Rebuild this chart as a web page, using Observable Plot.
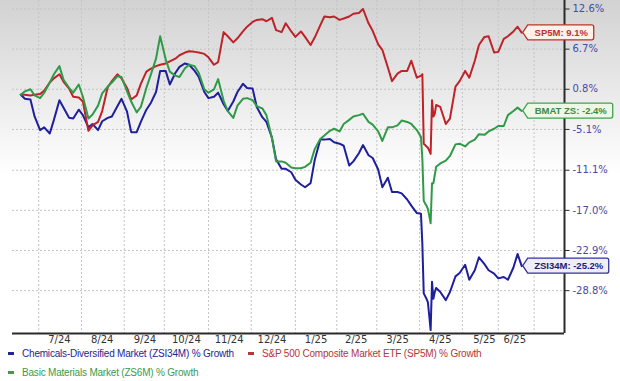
<!DOCTYPE html>
<html>
<head>
<meta charset="utf-8">
<script src="https://cdn.jsdelivr.net/npm/d3@7"></script>
<script src="https://cdn.jsdelivr.net/npm/@observablehq/plot@0.6"></script>
<style>
  html, body { margin: 0; padding: 0; background: #fff; }
  #wrap { position: relative; width: 620px; height: 381px; overflow: hidden; }
  #chart svg { display: block; background: linear-gradient(to bottom, #d2d2d2 0px, #ffffff 175px); }
  .lg { position: absolute; font-family: "Liberation Sans", Arial, sans-serif; font-size: 10px;
        letter-spacing: -0.2px; line-height: 14px; white-space: nowrap; }
  .lg i { display: inline-block; width: 6px; height: 3px; vertical-align: middle; margin-right: 8px; position: relative; top: -1px; }
</style>
</head>
<body>
<div id="wrap">
  <div id="chart"></div>
  <div id="legend"></div>
</div>
<script>
// ---------- data ----------
const dates = [
"2024-06-18","2024-06-21","2024-06-25","2024-06-28","2024-07-02","2024-07-05","2024-07-09","2024-07-12","2024-07-16","2024-07-19",
"2024-07-23","2024-07-26","2024-07-30","2024-08-02","2024-08-06","2024-08-09","2024-08-13","2024-08-16","2024-08-20","2024-08-23",
"2024-08-27","2024-08-30","2024-09-03","2024-09-06","2024-09-10","2024-09-13","2024-09-17","2024-09-20","2024-09-24","2024-09-27",
"2024-10-01","2024-10-04","2024-10-08","2024-10-11","2024-10-15","2024-10-18","2024-10-22","2024-10-25","2024-10-29","2024-11-01",
"2024-11-05","2024-11-08","2024-11-12","2024-11-15","2024-11-19","2024-11-22","2024-11-26","2024-11-29","2024-12-03","2024-12-06",
"2024-12-10","2024-12-13","2024-12-17","2024-12-20","2024-12-24","2024-12-27","2024-12-31","2025-01-03","2025-01-07","2025-01-10",
"2025-01-14","2025-01-17","2025-01-21","2025-01-24","2025-01-28","2025-01-31","2025-02-04","2025-02-07","2025-02-11","2025-02-14",
"2025-02-18","2025-02-21","2025-02-25","2025-02-28","2025-03-04","2025-03-07","2025-03-11","2025-03-14","2025-03-18","2025-03-21",
"2025-03-25","2025-03-28","2025-04-01","2025-04-04",
"2025-04-05","2025-04-06","2025-04-07","2025-04-08","2025-04-09","2025-04-10","2025-04-11","2025-04-12","2025-04-13","2025-04-14","2025-04-15",
"2025-04-18","2025-04-22","2025-04-25","2025-04-29","2025-05-02","2025-05-06","2025-05-09","2025-05-13","2025-05-16","2025-05-20",
"2025-05-23","2025-05-27","2025-05-30","2025-06-03","2025-06-06","2025-06-10","2025-06-13","2025-06-16"];

const sp5m = [
0, 0, -0.1, 0, 0.1, 0.6, 1.8, 2.4, 3.0, 1.9,
0.9, -0.3, -0.4, -1.0, -5.3, -4.5, -4.0, -2.4, 1.1, 2.0,
3.0, 2.4, 1.0, -0.7, -0.1, 1.6, 3.4, 3.8, 4.2, 4.4,
4.6, 4.9, 5.3, 5.8, 6.2, 6.4, 6.3, 6.2, 6.0, 5.5,
4.4, 4.8, 9.2, 8.6, 7.7, 8.3, 9.3, 10.0, 10.7, 11.0,
11.1, 10.8, 11.3, 9.5, 9.2, 10.5, 9.3, 8.5, 9.3, 8.5,
7.3, 8.4, 10.2, 11.5, 11.4, 11.5, 11.0, 11.2, 11.5, 11.9,
12.0, 12.6, 10.5, 9.4, 7.4, 6.6, 4.0, 2.0, 3.1, 3.5,
3.5, 5.0, 2.5, 2.8,
3.0, -7.2, -7.4, -7.6, -7.8, -8.2, -8.7, -0.8, -3.2, -2.8, -1.5,
-1.8, -4.3, -3.5, 1.2, 2.0, 3.5, 2.5, 5.0, 7.3, 8.5,
8.6, 6.2, 6.3, 8.2, 8.6, 9.3, 10.0, 9.1];

const bmat = [
0, 0.5, 0.8, -0.1, -0.5, 0.3, 1.8, 3.0, 4.2, 2.2,
1.0, 0.3, 1.5, -0.3, -3.5, -2.9, -1.6, 0.2, 1.2, 1.8,
2.7, 2.6, 0.5, -1.0, -2.6, -1.8, 1.0, 2.8, 5.3, 8.6,
5.2, 3.4, 2.8, 2.6, 3.9, 4.4, 4.2, 3.2, 0.8, 0.3,
0.8, 2.3, -0.9, -2.4, -3.4, -1.6, -0.6, -0.5, -0.8, -1.7,
-2.0, -3.0, -6.4, -9.8, -9.8, -10.0, -10.7, -10.8, -10.8, -10.6,
-10.0, -8.0, -6.5, -6.0, -5.3, -5.0, -5.4, -4.3, -3.7, -3.2,
-3.0, -2.8, -4.0, -4.4, -5.4, -6.8, -4.8, -4.8, -4.5, -3.8,
-4.0, -4.3, -5.2, -6.2,
-9.5, -15.6, -16.0, -16.3, -16.8, -17.8, -18.9, -13.0, -13.0, -11.8, -10.6,
-10.1, -9.7, -9.0, -7.3, -7.2, -7.6, -7.0, -6.6, -5.8, -5.9,
-5.4, -5.0, -4.6, -4.6, -3.0, -2.4, -1.9, -2.4];

const zsi34m = [
0, -0.6, -0.7, -3.2, -5.2, -4.8, -5.7, -3.7, -0.8, -1.9,
-3.4, -3.5, -2.2, -3.0, -4.8, -4.3, -5.2, -3.9, -3.4, -3.2,
-1.7, -0.6, -2.5, -5.5, -5.5, -4.0, -2.2, -1.3, 0.4, 3.5,
3.5, 1.5, 3.2, 4.1, 4.6, 4.4, 3.5, 2.6, 0.4, -0.5,
-0.3, 0.3, -1.4, -2.4, -1.0, 0.4, 1.6, 1.0, 0.9, -1.8,
-3.3, -4.0, -6.3, -9.5, -10.9, -10.9, -11.4, -12.5, -13.2, -13.6,
-13.0, -9.6, -6.6, -6.6, -6.5, -7.0, -7.2, -7.5, -10.4, -9.8,
-8.6, -7.4, -8.9, -9.3, -11.0, -13.6, -12.2, -14.3, -14.3, -14.5,
-15.4, -16.3, -17.4, -17.5,
-22.0, -29.2, -29.6, -30.0, -30.5, -32.5, -34.6, -27.5, -30.0, -29.0, -28.4,
-29.0, -30.2, -29.0, -26.7, -26.2, -25.0, -27.2, -25.8, -23.9, -24.9,
-25.8, -26.3, -27.0, -26.8, -27.2, -25.4, -23.4, -25.2];

const seriesCodes  = ["ZSI34M", "SP5M", "BMAT ZS"];
const seriesNames  = ["Chemicals-Diversified Market (ZSI34M) % Growth",
                      "S&P 500 Composite Market ETF (SP5M) % Growth",
                      "Basic Materials Market (ZS6M) % Growth"];

const yTicks = [12.6, 6.7, 0.8, -5.1, -11.1, -17.0, -22.9, -28.8];
const xTickDates  = ["2024-07-16","2024-08-16","2024-09-16","2024-10-16","2024-11-16","2024-12-17",
                     "2025-01-18","2025-02-16","2025-03-18","2025-04-18","2025-05-20","2025-06-11"];
const xTickLabels = ["7/24","8/24","9/24","10/24","11/24","12/24","1/25","2/25","3/25","4/25","5/25","6/25"];
const gridDates = ["2024-07-01","2024-08-01","2024-09-01","2024-09-30","2024-11-01","2024-12-02",
                   "2025-01-03","2025-02-02","2025-03-03","2025-04-03","2025-05-04","2025-05-30","2025-06-25"];
const xDomain = ["2024-06-12", "2025-07-17"];
const yDomain = [-35.1, 13.85];

// ---------- styles ----------
const colors = {ZSI34M: "#1f1f9c", SP5M: "#bf2228", "BMAT ZS": "#2f9a47"};
const tagFill = {ZSI34M: "#eeeef8", SP5M: "#fdf2ea", "BMAT ZS": "#ecf7e6"};
const tagStroke = {ZSI34M: "#33339a", SP5M: "#bb3328", "BMAT ZS": "#45a050"};
const tagText = {ZSI34M: "#1c1c70", SP5M: "#c0302f", "BMAT ZS": "#3a8a45"};
const tagWidth = {ZSI34M: 81, SP5M: 66, "BMAT ZS": 85};
const legendColors = ["#25258f", "#b5363a", "#3c9a4c"];

const parse = d3.utcParse("%Y-%m-%d");
const valuesByCode = {ZSI34M: zsi34m, SP5M: sp5m, "BMAT ZS": bmat};
const rows = seriesCodes.map(code => dates.map((d, i) => ({date: parse(d), value: valuesByCode[code][i], code})));
const lasts = rows.map(r => r[r.length - 1]);

const tickSymbol = {draw(ctx) { ctx.moveTo(0, 0); ctx.lineTo(5, 0); }};
const xTicks = xTickDates.map((d, i) => ({date: parse(d), label: xTickLabels[i]}));
const lineOrder = ["ZSI34M", "SP5M", "BMAT ZS"];

// tag boxes (flag pointing at the last value), positioned with Plot's scales
function tagPath(x, y, w) {
  const p = d3.path(), h = 7.5, x0 = x + 1.5, x1 = x + 6.5, r = 2;
  p.moveTo(x0, y);
  p.lineTo(x1, y - h);
  p.lineTo(x1 + w - r, y - h);
  p.arcTo(x1 + w, y - h, x1 + w, y - h + r, r);
  p.lineTo(x1 + w, y + h - r);
  p.arcTo(x1 + w, y + h, x1 + w - r, y + h, r);
  p.lineTo(x1, y + h);
  p.closePath();
  return p.toString();
}
function tagsMark(index, scales) {
  const g = d3.create("svg:g").attr("aria-label", "end tags");
  lasts.forEach(p => {
    g.append("path")
      .attr("d", tagPath(scales.x(p.date), scales.y(p.value), tagWidth[p.code]))
      .attr("fill", tagFill[p.code])
      .attr("stroke", tagStroke[p.code])
      .attr("stroke-width", 1.3);
  });
  return g.node();
}

const chart = Plot.plot({
  width: 620,
  height: 346,
  marginLeft: 12,
  marginRight: 56,
  marginTop: 0,
  marginBottom: 13,
  style: {fontFamily: "DejaVu Sans, sans-serif", overflow: "visible"},
  x: {type: "utc", domain: xDomain.map(parse), axis: null},
  y: {domain: yDomain, axis: null},
  marks: [
    Plot.ruleY(yTicks, {y: d => d, stroke: "#c4c4c4", strokeWidth: 1, strokeDasharray: "2,2"}),
    Plot.ruleX(gridDates.map(parse), {x: d => d, stroke: "#c4c4c4", strokeWidth: 1, strokeDasharray: "2,2"}),
    ...lineOrder.map(code => Plot.line(rows[seriesCodes.indexOf(code)], {
      x: "date", y: "value", stroke: colors[code], strokeWidth: 2, strokeLinejoin: "round"
    })),
    Plot.ruleX([parse(xDomain[1])], {stroke: "#2b2b2b", strokeWidth: 2}),
    Plot.ruleY([yDomain[0]], {stroke: "#2b2b2b", strokeWidth: 2}),
    Plot.dot(yTicks, {y: d => d, frameAnchor: "right", symbol: tickSymbol, r: 3, stroke: "#2b2b2b", strokeWidth: 1}),
    Plot.text(yTicks, {y: d => d, frameAnchor: "right", dx: 8, textAnchor: "start",
      text: d => d.toFixed(1) + "%", fill: "#4848a8", fontSize: 10, fontFamily: "DejaVu Sans"}),
    Plot.text(xTicks, {x: "date", frameAnchor: "bottom", dy: 9, text: "label",
      fill: "#333", fontSize: 10, fontFamily: "DejaVu Sans"}),
    tagsMark,
    ...lasts.map(p => Plot.text([p], {x: "date", y: "value", dx: 6.5 + tagWidth[p.code] / 2,
      text: d => `${d.code}: ${d.value.toFixed(1)}%`, fill: tagText[p.code], fontSize: 9.5,
      fontWeight: "bold", fontFamily: "Liberation Sans, Arial, sans-serif"}))
  ]
});
document.getElementById("chart").appendChild(chart);

// ---------- legend ----------
const legendPos = [{left: 8, top: 347}, {left: 248, top: 347}, {left: 8, top: 366}];
const legend = document.getElementById("legend");
seriesNames.forEach((name, i) => {
  const div = document.createElement("div");
  div.className = "lg";
  div.style.left = legendPos[i].left + "px";
  div.style.top = legendPos[i].top + "px";
  div.style.color = legendColors[i];
  const m = document.createElement("i");
  m.style.background = legendColors[i];
  div.appendChild(m);
  div.appendChild(document.createTextNode(name));
  legend.appendChild(div);
});
</script>
</body>
</html>
